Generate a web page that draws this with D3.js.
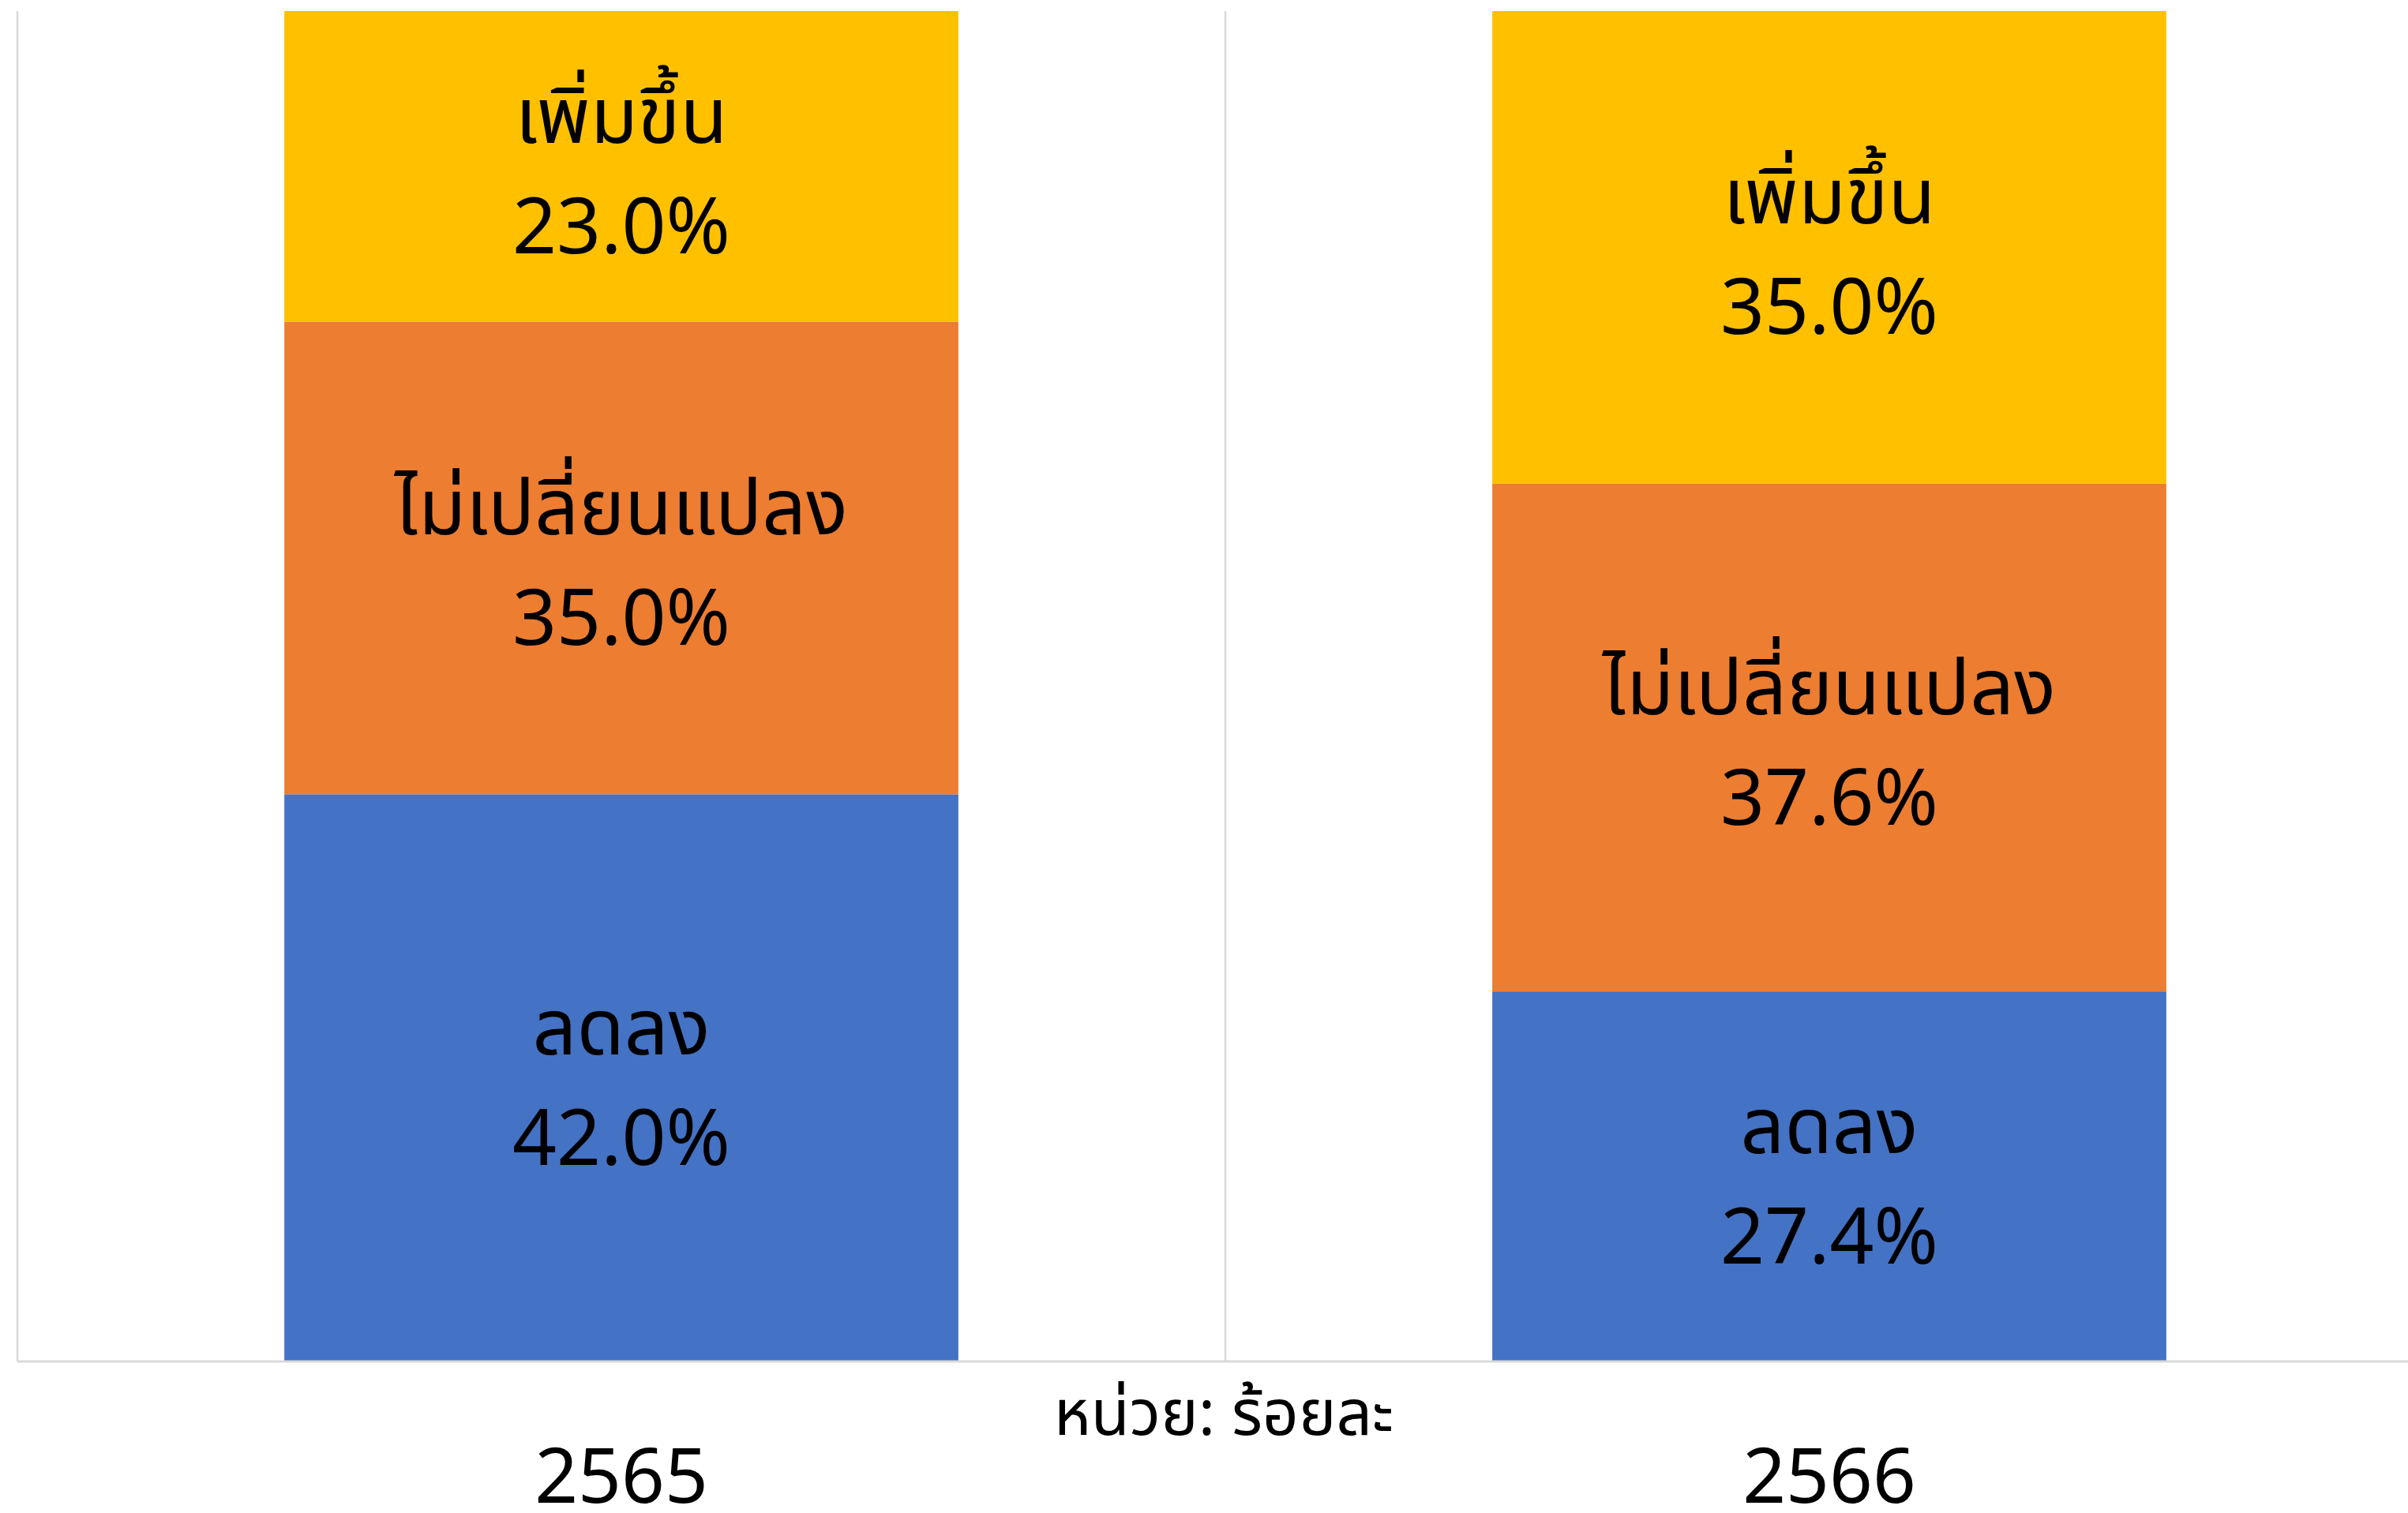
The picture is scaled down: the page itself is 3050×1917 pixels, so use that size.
<!DOCTYPE html>
<html>
<head>
<meta charset="utf-8">
<script src="https://cdn.jsdelivr.net/npm/d3@7"></script>
<style>
  html, body { margin: 0; padding: 0; background: #ffffff; }
  svg { display: block; }
  text { font-family: "Noto Sans Thai", "Noto Sans", sans-serif; fill: #000000; }
</style>
</head>
<body>
<script>
// Survey years (Thai Buddhist calendar)
const years = ["2565", "2566"];
// Series, stacked bottom to top
const seriesNames = ["ลดลง", "ไม่เปลี่ยนแปลง", "เพิ่มขึ้น"];
const decreased = [42.0, 27.4];
const unchanged = [35.0, 37.6];
const increased = [23.0, 35.0];
const seriesColors = ["#4472C4", "#ED7D31", "#FFC000"];
const unitLabel = "หน่วย: ร้อยละ";

const W = 3050, H = 1917;
const plot = { left: 22, right: 3082, top: 14, bottom: 1725 };

const rows = years.map((y, i) => ({
  year: y,
  [seriesNames[0]]: decreased[i],
  [seriesNames[1]]: unchanged[i],
  [seriesNames[2]]: increased[i]
}));

const stacked = d3.stack().keys(seriesNames)(rows);

const x = d3.scaleBand().domain(years).range([plot.left, plot.right]).padding(0);
const y = d3.scaleLinear().domain([0, 100]).range([plot.bottom, plot.top]);
const color = d3.scaleOrdinal().domain(seriesNames).range(seriesColors);

const barRatio = 0.558;
const barW = x.bandwidth() * barRatio;

const svg = d3.select("body").append("svg")
  .attr("width", W).attr("height", H);

// Vertical gridlines on category boundaries
const bounds = years.map(d => x(d)).concat([x(years[years.length - 1]) + x.bandwidth()]);
svg.append("g").selectAll("line").data(bounds).join("line")
  .attr("x1", d => d).attr("x2", d => d)
  .attr("y1", plot.top).attr("y2", plot.bottom)
  .attr("stroke", "#d9d9d9").attr("stroke-width", 2.5);

// Stacked bars
const layers = svg.append("g").selectAll("g").data(stacked).join("g")
  .attr("fill", d => color(d.key));

layers.selectAll("rect").data(d => d).join("rect")
  .attr("x", d => x(d.data.year) + (x.bandwidth() - barW) / 2)
  .attr("width", barW)
  .attr("y", d => y(d[1]))
  .attr("height", d => y(d[0]) - y(d[1]));

// Category axis baseline
svg.append("line")
  .attr("x1", plot.left).attr("x2", W)
  .attr("y1", plot.bottom).attr("y2", plot.bottom)
  .attr("stroke", "#d9d9d9").attr("stroke-width", 3);

// Segment labels: series name and share
const fs = 98;
stacked.forEach(layer => {
  layer.forEach(d => {
    const cx = x(d.data.year) + x.bandwidth() / 2;
    const cy = (y(d[0]) + y(d[1])) / 2;
    const g = svg.append("g").attr("text-anchor", "middle").style("font-size", fs + "px");
    g.append("text").attr("x", cx).attr("y", cy - 30).text(layer.key);
    g.append("text").attr("x", cx).attr("y", cy + 110)
      .text(d3.format(".1f")(d[1] - d[0]) + "%");
  });
});

// Category tick labels
const xAxis = d3.axisBottom(x).tickSize(0).tickPadding(0);
const axisG = svg.append("g").attr("transform", `translate(0,${plot.bottom})`).call(xAxis);
axisG.select(".domain").remove();
axisG.selectAll("text")
  .attr("dy", null)
  .attr("y", 179)
  .attr("fill", "#000000")
  .style("font-size", "96px")
  .style("font-family", "\"Noto Sans Thai\", \"Noto Sans\", sans-serif");

// Unit note
svg.append("text")
  .attr("x", 1550).attr("y", 1818)
  .attr("text-anchor", "middle")
  .style("font-size", "80px")
  .text(unitLabel);
</script>
</body>
</html>
